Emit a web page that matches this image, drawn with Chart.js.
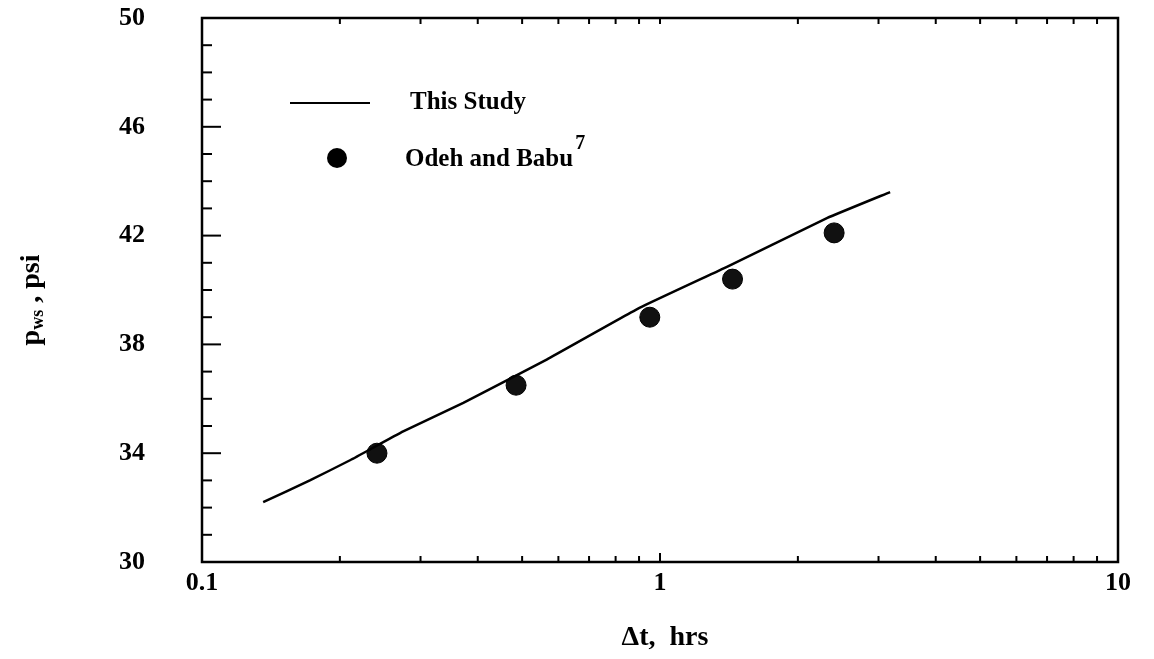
<!DOCTYPE html>
<html>
<head>
<meta charset="utf-8">
<script src="https://cdn.jsdelivr.net/npm/chart.js@4.4.1/dist/chart.umd.min.js"></script>
<style>
  html, body { margin: 0; padding: 0; background: #fff; }
  #wrap { width: 1154px; height: 659px; }
</style>
</head>
<body>
<div id="wrap"><canvas id="chart" width="1154" height="659"></canvas></div>
<script>
// "This Study" curve (dt in hrs, pws in psi)
const studyDt = [0.136, 0.172, 0.211, 0.275, 0.372, 0.454, 0.567, 0.904, 1.40, 2.32, 3.18];
const studyP = [32.2, 33.0, 33.75, 34.8, 35.85, 36.6, 37.45, 39.35, 40.85, 42.65, 43.6];

// Odeh and Babu points
const odehDt = [0.241, 0.485, 0.95, 1.44, 2.40];
const odehP = [34.0, 36.5, 39.0, 40.4, 42.1];

const yMin = 30, yMax = 50, yStep = 4;
const xMin = 0.1, xMax = 10;
const xTickLabels = [0.1, 1, 10];

const serif = '"Liberation Serif", "DejaVu Serif", serif';

const toPoints = (xs, ys) => xs.map((x, i) => ({ x: x, y: ys[i] }));

// frame, inward ticks, legend and axis titles
const decorPlugin = {
  id: 'decor',
  afterDraw(chart) {
    const ctx = chart.ctx;
    const area = chart.chartArea;
    const xs = chart.scales.x;
    const ys = chart.scales.y;
    ctx.save();
    ctx.strokeStyle = '#000';
    ctx.fillStyle = '#000';

    ctx.lineWidth = 2.5;
    ctx.strokeRect(area.left, area.top, area.right - area.left, area.bottom - area.top);

    // y ticks on the left, pointing in
    ctx.lineWidth = 2;
    for (let v = yMin; v <= yMax; v++) {
      const py = ys.getPixelForValue(v);
      const len = (v - yMin) % yStep === 0 ? 19 : 10;
      ctx.beginPath();
      ctx.moveTo(area.left, py);
      ctx.lineTo(area.left + len, py);
      ctx.stroke();
    }

    // x ticks on bottom and top
    for (let dec = -1; dec < 1; dec++) {
      for (let m = 1; m <= 10; m++) {
        const v = m * Math.pow(10, dec);
        if (v <= xMin || v >= xMax) continue;
        const px = xs.getPixelForValue(v);
        const len = m === 10 ? 9 : 6;
        ctx.beginPath();
        ctx.moveTo(px, area.bottom);
        ctx.lineTo(px, area.bottom - len);
        ctx.moveTo(px, area.top);
        ctx.lineTo(px, area.top + 6);
        ctx.stroke();
      }
    }

    // legend
    const ds = chart.data.datasets;
    const lx = area.left + 88, ly1 = area.top + 85, ly2 = area.top + 140;
    ctx.lineWidth = 2;
    ctx.beginPath();
    ctx.moveTo(lx, ly1);
    ctx.lineTo(lx + 80, ly1);
    ctx.stroke();
    ctx.beginPath();
    ctx.arc(lx + 47, ly2, 10, 0, Math.PI * 2);
    ctx.fill();

    ctx.font = 'bold 25px ' + serif;
    ctx.textBaseline = 'middle';
    ctx.textAlign = 'left';
    ctx.fillText(ds[0].label, lx + 120, ly1);
    ctx.fillText(ds[1].label, lx + 115, ly2 + 2);
    const w = ctx.measureText(ds[1].label).width;
    ctx.font = 'bold 20px ' + serif;
    ctx.fillText('7', lx + 117 + w, ly2 - 14);

    // x title
    ctx.font = 'bold 28px ' + serif;
    ctx.textAlign = 'center';
    ctx.fillText('\u0394t,  hrs', 665, 638);

    // y title with subscript
    ctx.translate(32, 300);
    ctx.rotate(-Math.PI / 2);
    const parts = [['p', 28, 0], ['ws', 18, 6], [' , psi', 28, 0]];
    let total = 0;
    parts.forEach(p => { ctx.font = 'bold ' + p[1] + 'px ' + serif; total += ctx.measureText(p[0]).width; });
    let cx = -total / 2;
    ctx.textAlign = 'left';
    parts.forEach(p => {
      ctx.font = 'bold ' + p[1] + 'px ' + serif;
      ctx.fillText(p[0], cx, p[2]);
      cx += ctx.measureText(p[0]).width;
    });
    ctx.restore();
  }
};

new Chart(document.getElementById('chart'), {
  type: 'scatter',
  data: {
    datasets: [
      {
        type: 'line',
        label: 'This Study',
        data: toPoints(studyDt, studyP),
        borderColor: '#000',
        borderWidth: 2.5,
        pointRadius: 0,
        tension: 0.1,
        fill: false
      },
      {
        label: 'Odeh and Babu',
        data: toPoints(odehDt, odehP),
        backgroundColor: '#111',
        borderColor: '#000',
        pointRadius: 10,
        pointHoverRadius: 10
      }
    ]
  },
  options: {
    responsive: false,
    animation: false,
    layout: { padding: { left: 0, right: 36, top: 18, bottom: 0 } },
    plugins: {
      legend: { display: false },
      tooltip: { enabled: false }
    },
    scales: {
      x: {
        type: 'logarithmic',
        min: xMin,
        max: xMax,
        grid: { display: false, drawTicks: false },
        border: { display: false },
        afterFit: s => { s.height = 97; s.paddingLeft = 0; s.paddingRight = 0; },
        ticks: {
          autoSkip: false,
          maxRotation: 0,
          padding: 6,
          color: '#000',
          font: { family: serif, size: 26, weight: 'bold' },
          callback: v => xTickLabels.some(t => Math.abs(t - v) < 1e-9) ? String(v) : ''
        }
      },
      y: {
        min: yMin,
        max: yMax,
        grid: { display: false, drawTicks: false },
        border: { display: false },
        afterFit: s => { s.width = 202; s.paddingTop = 0; s.paddingBottom = 0; },
        ticks: {
          stepSize: yStep,
          padding: 57,
          color: '#000',
          font: { family: serif, size: 26, weight: 'bold' }
        }
      }
    }
  },
  plugins: [decorPlugin]
});
</script>
</body>
</html>
